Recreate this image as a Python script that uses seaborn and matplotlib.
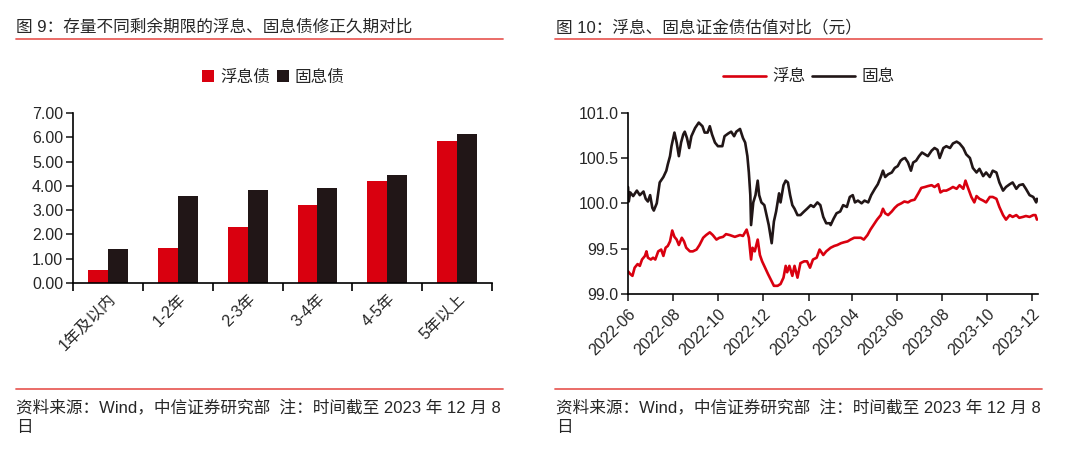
import pandas as pd
import matplotlib
matplotlib.use("Agg")
import matplotlib.pyplot as plt
import matplotlib.dates as mdates
from matplotlib.lines import Line2D
import seaborn as sns

# ---- 图9 data ----
terms = ["1年及以内", "1-2年", "2-3年", "3-4年", "4-5年", "5年以上"]
float_dur = [0.55, 1.45, 2.32, 3.20, 4.20, 5.85]
fixed_dur = [1.40, 3.57, 3.82, 3.90, 4.46, 6.14]

# ---- 图10 data ----
fixed_dates = [
    "2022-06-01", "2022-06-02", "2022-06-04", "2022-06-08", "2022-06-13", "2022-06-17", "2022-06-22",
    "2022-06-25", "2022-06-28", "2022-07-01", "2022-07-04", "2022-07-06", "2022-07-10", "2022-07-14",
    "2022-07-19", "2022-07-23", "2022-07-25", "2022-07-28", "2022-07-30", "2022-08-03", "2022-08-06",
    "2022-08-09", "2022-08-12", "2022-08-15", "2022-08-17", "2022-08-20", "2022-08-23", "2022-08-26",
    "2022-08-31", "2022-09-05", "2022-09-10", "2022-09-13", "2022-09-17", "2022-09-20", "2022-09-23",
    "2022-09-27", "2022-10-01", "2022-10-07", "2022-10-10", "2022-10-15", "2022-10-19", "2022-10-23",
    "2022-10-26", "2022-10-31", "2022-11-04", "2022-11-07", "2022-11-10", "2022-11-12", "2022-11-14",
    "2022-11-15", "2022-11-18", "2022-11-21", "2022-11-24", "2022-11-26", "2022-11-29", "2022-12-03",
    "2022-12-06", "2022-12-09", "2022-12-13", "2022-12-16", "2022-12-19", "2022-12-23", "2022-12-25",
    "2022-12-29", "2023-01-01", "2023-01-04", "2023-01-07", "2023-01-10", "2023-01-13", "2023-01-17",
    "2023-01-21", "2023-01-26", "2023-01-30", "2023-02-04", "2023-02-08", "2023-02-13", "2023-02-17",
    "2023-02-21", "2023-02-25", "2023-03-02", "2023-03-03", "2023-03-07", "2023-03-11", "2023-03-16",
    "2023-03-20", "2023-03-25", "2023-03-29", "2023-04-02", "2023-04-05", "2023-04-09", "2023-04-14",
    "2023-04-18", "2023-04-23", "2023-04-27", "2023-05-02", "2023-05-06", "2023-05-10", "2023-05-13",
    "2023-05-16", "2023-05-20", "2023-05-25", "2023-05-29", "2023-06-02", "2023-06-06", "2023-06-09",
    "2023-06-12", "2023-06-16", "2023-06-20", "2023-06-23", "2023-06-27", "2023-07-01", "2023-07-05",
    "2023-07-09", "2023-07-13", "2023-07-18", "2023-07-22", "2023-07-26", "2023-07-29", "2023-08-03",
    "2023-08-07", "2023-08-12", "2023-08-16", "2023-08-21", "2023-08-25", "2023-08-30", "2023-09-03",
    "2023-09-08", "2023-09-12", "2023-09-17", "2023-09-21", "2023-09-26", "2023-09-30", "2023-10-05",
    "2023-10-09", "2023-10-14", "2023-10-18", "2023-10-23", "2023-10-27", "2023-11-01", "2023-11-05",
    "2023-11-10", "2023-11-14", "2023-11-19", "2023-11-23", "2023-11-28", "2023-12-03", "2023-12-07",
    "2023-12-08",
]
fixed_vals = [
    100.18, 100.02, 100.12, 100.08, 100.14, 100.09, 100.13,
    100.05, 100.02, 100.09, 99.95, 99.92, 100.00, 100.23,
    100.29, 100.36, 100.43, 100.52, 100.63, 100.78, 100.67,
    100.52, 100.67, 100.76, 100.79, 100.72, 100.61, 100.74,
    100.83, 100.89, 100.85, 100.78, 100.78, 100.85, 100.76,
    100.67, 100.63, 100.63, 100.74, 100.77, 100.79, 100.74,
    100.79, 100.82, 100.72, 100.67, 100.52, 100.34, 100.09,
    99.76, 100.01, 100.09, 100.25, 100.09, 100.01, 99.98,
    99.87, 99.76, 99.56, 99.80, 99.91, 100.11, 100.01,
    100.20, 100.25, 100.23, 100.09, 99.98, 99.94, 99.87,
    99.87, 99.91, 99.94, 99.98, 99.96, 100.01, 99.98,
    99.85, 99.78, 99.78, 99.76, 99.83, 99.89, 99.91,
    99.98, 99.96, 100.07, 100.09, 100.01, 100.03, 100.00,
    100.03, 100.01, 100.09, 100.16, 100.21, 100.29, 100.36,
    100.29, 100.32, 100.34, 100.39, 100.41, 100.47, 100.49,
    100.50, 100.45, 100.36, 100.45, 100.47, 100.52, 100.56,
    100.54, 100.52, 100.58, 100.61, 100.59, 100.50, 100.61,
    100.63, 100.61, 100.66, 100.68, 100.66, 100.61, 100.54,
    100.50, 100.39, 100.34, 100.38, 100.30, 100.34, 100.29,
    100.36, 100.34, 100.23, 100.14, 100.18, 100.21, 100.23,
    100.16, 100.20, 100.21, 100.16, 100.09, 100.07, 100.01,
    100.05,
]

float_dates = [
    "2022-06-01", "2022-06-04", "2022-06-07", "2022-06-10", "2022-06-14", "2022-06-17", "2022-06-20",
    "2022-06-24", "2022-06-26", "2022-06-28", "2022-07-02", "2022-07-05", "2022-07-08", "2022-07-12",
    "2022-07-16", "2022-07-19", "2022-07-22", "2022-07-25", "2022-07-28", "2022-07-31", "2022-08-03",
    "2022-08-06", "2022-08-09", "2022-08-13", "2022-08-16", "2022-08-19", "2022-08-24", "2022-08-28",
    "2022-09-02", "2022-09-06", "2022-09-11", "2022-09-15", "2022-09-20", "2022-09-24", "2022-09-29",
    "2022-10-03", "2022-10-08", "2022-10-12", "2022-10-17", "2022-10-24", "2022-10-31", "2022-11-04",
    "2022-11-09", "2022-11-12", "2022-11-15", "2022-11-17", "2022-11-20", "2022-11-24", "2022-11-27",
    "2022-11-30", "2022-12-04", "2022-12-08", "2022-12-13", "2022-12-16", "2022-12-21", "2022-12-25",
    "2022-12-29", "2023-01-01", "2023-01-03", "2023-01-06", "2023-01-10", "2023-01-13", "2023-01-17",
    "2023-01-21", "2023-01-26", "2023-01-30", "2023-02-03", "2023-02-07", "2023-02-12", "2023-02-16",
    "2023-02-21", "2023-02-25", "2023-03-03", "2023-03-08", "2023-03-12", "2023-03-17", "2023-03-21",
    "2023-03-26", "2023-03-30", "2023-04-04", "2023-04-08", "2023-04-13", "2023-04-17", "2023-04-22",
    "2023-04-26", "2023-05-01", "2023-05-05", "2023-05-10", "2023-05-13", "2023-05-16", "2023-05-20",
    "2023-05-25", "2023-05-29", "2023-06-02", "2023-06-07", "2023-06-11", "2023-06-16", "2023-06-20",
    "2023-06-25", "2023-06-30", "2023-07-04", "2023-07-09", "2023-07-13", "2023-07-18", "2023-07-22",
    "2023-07-27", "2023-07-30", "2023-08-03", "2023-08-07", "2023-08-12", "2023-08-16", "2023-08-21",
    "2023-08-25", "2023-08-30", "2023-09-02", "2023-09-05", "2023-09-10", "2023-09-14", "2023-09-17",
    "2023-09-21", "2023-09-26", "2023-09-30", "2023-10-05", "2023-10-09", "2023-10-14", "2023-10-18",
    "2023-10-23", "2023-10-27", "2023-11-01", "2023-11-05", "2023-11-10", "2023-11-14", "2023-11-19",
    "2023-11-23", "2023-11-28", "2023-12-03", "2023-12-06", "2023-12-08",
]
float_vals = [
    99.25, 99.22, 99.20, 99.29, 99.33, 99.31, 99.38,
    99.42, 99.47, 99.40, 99.38, 99.40, 99.38, 99.47,
    99.49, 99.42, 99.51, 99.53, 99.58, 99.70, 99.63,
    99.60, 99.54, 99.62, 99.58, 99.51, 99.47, 99.47,
    99.49, 99.54, 99.62, 99.65, 99.68, 99.65, 99.60,
    99.62, 99.63, 99.66, 99.65, 99.63, 99.65, 99.64,
    99.71, 99.62, 99.38, 99.51, 99.47, 99.60, 99.43,
    99.36, 99.29, 99.22, 99.14, 99.09, 99.09, 99.11,
    99.18, 99.31, 99.24, 99.31, 99.20, 99.31, 99.18,
    99.34, 99.36, 99.36, 99.29, 99.38, 99.40, 99.49,
    99.43, 99.47, 99.51, 99.53, 99.54, 99.56, 99.57,
    99.58, 99.60, 99.62, 99.62, 99.62, 99.60, 99.65,
    99.71, 99.77, 99.82, 99.87, 99.94, 99.89, 99.87,
    99.91, 99.95, 99.98, 100.00, 100.02, 100.01, 100.03,
    100.04, 100.11, 100.17, 100.18, 100.19, 100.20, 100.18,
    100.21, 100.12, 100.14, 100.14, 100.16, 100.18, 100.16,
    100.20, 100.16, 100.25, 100.18, 100.07, 100.01, 100.08,
    100.05, 100.03, 100.01, 100.07, 100.07, 100.05, 99.96,
    99.87, 99.82, 99.87, 99.85, 99.87, 99.84, 99.85,
    99.86, 99.85, 99.87, 99.87, 99.82,
]

RED = "#D9000F"
BLACK = "#211617"
RULE = "#E8605C"

sns.set_style("ticks")
plt.rcParams['font.family'] = ['Liberation Sans', 'Noto Sans CJK SC']
plt.rcParams['axes.unicode_minus'] = False

fig = plt.figure(figsize=(10.8, 4.5), dpi=100)

# ================= 图9 bars =================
df_bar = pd.DataFrame({
    "期限": terms * 2,
    "类型": ["浮息债"] * len(terms) + ["固息债"] * len(terms),
    "久期": float_dur + fixed_dur,
})
ax1 = fig.add_axes([0.0676, 0.371, 0.388, 0.378])
sns.barplot(data=df_bar, x="期限", y="久期", hue="类型", palette=[RED, BLACK],
            width=0.57, saturation=1, linewidth=0, ax=ax1)
ax1.set_xlim(-0.5, 5.5)
ax1.set_ylim(0, 7)
ax1.set_yticks(range(0, 8))
ax1.set_yticklabels([f"{v:.2f}" for v in range(0, 8)])
ax1.set_xticks(range(len(terms)))
ax1.set_xticklabels(terms, rotation=45, ha="right", rotation_mode="anchor")
ax1.set_xticks([i - 0.5 for i in range(len(terms) + 1)], minor=True)
ax1.tick_params(axis="x", which="major", length=0, pad=6, labelsize=11.5)
ax1.tick_params(axis="x", which="minor", length=6, width=1.2, color="black")
ax1.tick_params(axis="y", length=5, width=1.2, labelsize=11.5, pad=2)
ax1.set_xlabel("")
ax1.set_ylabel("")
for s in ["top", "right"]:
    ax1.spines[s].set_visible(False)
for s in ["left", "bottom"]:
    ax1.spines[s].set_linewidth(1.2)
    ax1.spines[s].set_color("black")
ax1.legend(loc="center", bbox_to_anchor=(0.478, 1.21), ncol=2, frameon=False,
           handlelength=0.75, handleheight=0.75, handletextpad=0.35,
           columnspacing=0.4, fontsize=12)

# ================= 图10 lines =================
df_line = pd.concat([
    pd.DataFrame({"日期": pd.to_datetime(float_dates), "估值": float_vals, "品种": "浮息"}),
    pd.DataFrame({"日期": pd.to_datetime(fixed_dates), "估值": fixed_vals, "品种": "固息"}),
], ignore_index=True)
ax2 = fig.add_axes([0.5815, 0.3467, 0.380, 0.403])
sns.lineplot(data=df_line, x="日期", y="估值", hue="品种", palette=[RED, BLACK],
             linewidth=1.9, ax=ax2)
ax2.set_xlim(pd.Timestamp("2022-06-01"), pd.Timestamp("2023-12-10"))
ax2.set_ylim(99.0, 101.0)
ax2.set_yticks([99.0, 99.5, 100.0, 100.5, 101.0])
ax2.set_yticklabels([f"{v:.1f}" for v in [99.0, 99.5, 100.0, 100.5, 101.0]])
ax2.xaxis.set_major_locator(mdates.MonthLocator(bymonth=[2, 4, 6, 8, 10, 12]))
ax2.xaxis.set_major_formatter(mdates.DateFormatter("%Y-%m"))
plt.setp(ax2.get_xticklabels(), rotation=45, ha="right", rotation_mode="anchor")
ax2.tick_params(axis="x", length=5, width=1.2, labelsize=11.5, pad=4)
ax2.tick_params(axis="y", length=5, width=1.2, labelsize=11.5, pad=2)
ax2.set_xlabel("")
ax2.set_ylabel("")
for s in ["top", "right"]:
    ax2.spines[s].set_visible(False)
for s in ["left", "bottom"]:
    ax2.spines[s].set_linewidth(1.2)
    ax2.spines[s].set_color("black")
ax2.legend(loc="center", bbox_to_anchor=(0.44, 1.197), ncol=2, frameon=False,
           handlelength=2.6, handletextpad=0.35, columnspacing=0.4, fontsize=12)

# ================= titles, rules, notes =================
fig.text(0.0148, 0.94, "图 9：存量不同剩余期限的浮息、固息债修正久期对比", fontsize=12, va="center")
fig.text(0.515, 0.94, "图 10：浮息、固息证金债估值对比（元）", fontsize=12, va="center")
note = "资料来源：Wind，中信证券研究部  注：时间截至 2023 年 12 月 8\n日"
fig.text(0.0148, 0.112, note, fontsize=12, va="top", linespacing=1.4)
fig.text(0.515, 0.112, note, fontsize=12, va="top", linespacing=1.4)
for x0, x1 in [(0.0148, 0.4657), (0.514, 0.965)]:
    fig.add_artist(Line2D([x0, x1], [0.914, 0.914], color=RULE, lw=1.3, transform=fig.transFigure))
    fig.add_artist(Line2D([x0, x1], [0.1356, 0.1356], color=RULE, lw=1.3, transform=fig.transFigure))

fig.savefig("out.png", dpi=100)
